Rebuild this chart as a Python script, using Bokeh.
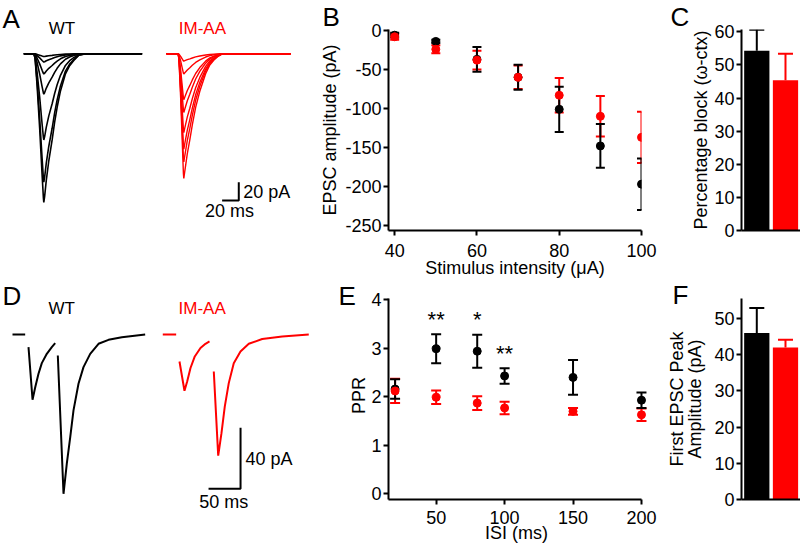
import math
from bokeh.plotting import figure
from bokeh.layouts import row, column
from bokeh.models import Range1d, Label, FixedTicker, ColumnDataSource, PrintfTickFormatter
from bokeh.core.properties import value
from bokeh.embed import file_html
from bokeh.resources import INLINE

FONT = "Liberation Sans"
RED = "#ff0000"
BLK = "#000000"
GROUPS = ["WT", "IM-AA"]
GROUP_COLORS = [BLK, RED]

# ---------------- Panel A: EPSC traces at increasing stimulus (ms, pA) -------------
A_WT_T = [0, 12, 13.5, 16, 19, 22, 23.5, 24, 25, 27, 30, 34, 37, 40, 44, 50, 55, 60, 66, 75, 142]
A_WT_SHAPE = [0, 0, 0.03, 0.22, 0.5, 0.82, 0.97, 1.0, 0.96, 0.85, 0.72, 0.58, 0.46, 0.36,
              0.25, 0.135, 0.08, 0.045, 0.01, 0, 0]
A_WT_PEAKS = [162, 140, 94, 44, 22, 9, 3]
A_IM_T = [0, 14, 15, 17, 19, 20.3, 20.8, 22, 25, 28, 31, 35, 40, 47, 52, 57, 62, 67, 149]
A_IM_SHAPE = [0, 0, 0.05, 0.35, 0.72, 0.96, 1.0, 0.94, 0.8, 0.69, 0.57, 0.43, 0.3, 0.16,
              0.09, 0.05, 0.02, 0, 0]
A_IM_PEAKS = [136, 118, 104, 86, 64, 50, 22, 8]
A_SCALE_MS, A_SCALE_PA = 20, 20

# ---------------- Panel B: input-output ----------------------------------------------
B_X = [40, 50, 60, 70, 80, 90, 100]
B_WT = [-6, -14, -37, -60, -101, -148, -197]
B_WT_SEM = [3, 2, 16, 16, 29, 28, 33]
B_IM = [-8, -24, -38, -60, -83, -110, -137]
B_IM_SEM = [4, 5, 12, 15, 22, 26, 33]
B_XTICKS = [40, 60, 80, 100]
B_YTICKS = [0, -50, -100, -150, -200, -250]

# ---------------- Panel C: percentage block ------------------------------------------
C_MEAN = [54.3, 45.4]
C_SEM = [6.3, 8.0]
C_YTICKS = [0, 10, 20, 30, 40, 50, 60]

# ---------------- Panel D: paired-pulse traces (ms, pA) ------------------------------
D_WT_T = [[0, 19.8],
          [25, 31.3, 35.5, 40.6, 45.8, 53.6, 61.4, 66.7],
          [70.8, 79.7, 84.8, 90.2, 95.3, 103.1, 110.9, 121.4, 134.4, 150, 170.8, 207.3]]
D_WT_I = [[0, 0],
          [-8.3, -42.8, -34.6, -25.8, -18.8, -12.7, -8.3, -5.7],
          [-13.8, -104.5, -84.8, -67.3, -49.8, -32.3, -21.4, -12.7, -6.1, -3.5, -1.8, 0]]
D_IM_T = [[0, 20.9],
          [26.1, 33.9, 38.1, 43.3, 50, 58.9, 66.7, 73],
          [79.7, 86.6, 91.7, 96.9, 103.1, 110.9, 121.4, 134.4, 155.3, 186.6, 228.1]]
D_IM_I = [[0, 0],
          [-17.7, -36.9, -30.8, -22, -14.4, -8.9, -6.1, -4.6],
          [-24.3, -79.5, -64.7, -47.2, -31.9, -18.8, -11.1, -6.1, -3, -1.3, 0]]
D_SCALE_MS, D_SCALE_PA = 50, 40

# ---------------- Panel E: PPR vs ISI ------------------------------------------------
E_X = [20, 50, 80, 100, 150, 200]
E_WT = [2.16, 2.99, 2.94, 2.43, 2.40, 1.93]
E_WT_SEM = [0.20, 0.30, 0.34, 0.16, 0.36, 0.16]
E_IM = [2.12, 1.99, 1.87, 1.77, 1.70, 1.63]
E_IM_SEM = [0.25, 0.14, 0.14, 0.13, 0.07, 0.13]
E_STARS = ["", "**", "*", "**", "", ""]
E_XTICKS = [50, 100, 150, 200]
E_YTICKS = [0, 1, 2, 3, 4]

# ---------------- Panel F: first EPSC amplitude --------------------------------------
F_MEAN = [46.0, 42.0]
F_SEM = [6.9, 2.1]
F_YTICKS = [0, 10, 20, 30, 40, 50]


def make_fig(w, h, xr, yr, l=0, r=0, t=0, b=0, axes=True):
    kw = dict(width=w, height=h, x_range=xr, y_range=yr, output_backend="svg",
              toolbar_location=None, min_border_left=l, min_border_right=r,
              min_border_top=t, min_border_bottom=b)
    if not axes:
        kw.update(x_axis_location=None, y_axis_location=None)
    p = figure(**kw)
    p.outline_line_color = None
    p.grid.visible = False
    p.background_fill_color = "white"
    p.border_fill_color = "white"
    if axes:
        for ax in p.axis:
            ax.axis_line_width = 2
            ax.axis_line_color = "black"
            ax.major_tick_line_width = 2
            ax.major_tick_line_color = "black"
            ax.major_tick_out = 5
            ax.major_tick_in = 0
            ax.minor_tick_line_color = None
            ax.major_label_text_font = FONT
            ax.major_label_text_font_size = "18px"
            ax.major_label_text_color = "black"
            ax.axis_label_text_font = FONT
            ax.axis_label_text_font_size = "18px"
            ax.axis_label_text_font_style = "normal"
            ax.axis_label_text_color = "black"
            ax.major_label_standoff = 2
    else:
        p.frame_align = False
    return p


def put(p, frame_left, frame_bottom, text, sx, sy, size=18, color=BLK, align="left", angle=0):
    p.add_layout(Label(x=sx - frame_left, y=frame_bottom - sy, x_units="screen",
                       y_units="screen", text=text, text_font=FONT,
                       text_font_size=f"{size}px", text_color=color, angle=angle,
                       text_align=align, text_baseline="middle"))


def letter(p, text, offset, standoff):
    t = p.title
    t.text = text
    t.align = "left"
    t.offset = offset
    t.standoff = standoff
    t.text_font = FONT
    t.text_font_size = "26px"
    t.text_font_style = "normal"
    t.text_color = BLK
    t.vertical_align = "bottom"


def errbars(p, x, y, sem, color, cap):
    lo = [a - s for a, s in zip(y, sem)]
    hi = [a + s for a, s in zip(y, sem)]
    p.segment(x0=x, y0=lo, x1=x, y1=hi, line_color=color, line_width=2)
    p.scatter(x=x + x, y=lo + hi, marker="dash", size=cap, line_color=color, line_width=2)


def bars(p, mean, sem):
    idx = list(range(len(GROUPS)))
    src = ColumnDataSource(dict(x=idx, top=mean, hi=[m + s for m, s in zip(mean, sem)],
                                color=GROUP_COLORS))
    p.vbar(x="x", top="top", width=0.88, fill_color="color", line_color=None, source=src)
    p.segment(x0="x", y0="top", x1="x", y1="hi", line_color="color", line_width=2, source=src)
    p.scatter(x="x", y="hi", marker="dash", size=15, line_color="color", line_width=2, source=src)
    p.xaxis.ticker = FixedTicker(ticks=[])
    p.xaxis.major_tick_line_color = None


# ======================= Panel A =======================
pA = make_fig(300, 280, Range1d(-28.0, 332.2), Range1d(-247.2, 58.1), axes=False)
A_IM_OFFSET = 171.3
for pk in A_WT_PEAKS:
    pA.line(A_WT_T, [-pk * s for s in A_WT_SHAPE], line_color=BLK, line_width=1.6)
for pk in A_IM_PEAKS:
    pA.line([t + A_IM_OFFSET for t in A_IM_T], [-pk * s for s in A_IM_SHAPE],
            line_color=RED, line_width=1.4)
a_cx, a_cy = 258.1, -160
pA.line([a_cx - A_SCALE_MS, a_cx, a_cx], [a_cy, a_cy, a_cy + A_SCALE_PA], line_color=BLK, line_width=2)
put(pA, 0, 280, "A", 2, 18, size=26)
put(pA, 0, 280, "WT", 48.3, 28, size=17)
put(pA, 0, 280, "IM-AA", 178.3, 28, size=17, color=RED)
put(pA, 0, 280, "20 pA", 242.7, 191)
put(pA, 0, 280, "20 ms", 229, 210, align="center")

# ======================= Panel B =======================
pB = make_fig(370, 280, Range1d(38.5, 100), Range1d(-256.4, 1.3), l=88, r=29, t=29, b=50)
errbars(pB, B_X, B_IM, B_IM_SEM, RED, 9)
errbars(pB, B_X, B_WT, B_WT_SEM, BLK, 9)
pB.scatter(B_X, B_WT, size=8, fill_color=BLK, line_color=BLK)
pB.scatter(B_X, B_IM, size=8, fill_color=RED, line_color=RED)
pB.xaxis.ticker = FixedTicker(ticks=B_XTICKS)
pB.yaxis.ticker = FixedTicker(ticks=B_YTICKS)
pB.yaxis.formatter = PrintfTickFormatter(format="%d")
pB.xaxis.axis_label = "Stimulus intensity (\u03bcA)"
pB.yaxis.axis_label = "EPSC amplitude (pA)"
pB.xaxis.major_label_standoff = 8
pB.xaxis.axis_label_standoff = -2
pB.yaxis.axis_label_standoff = 2
letter(pB, "B", -66, -5)

# ======================= Panel C =======================
pC = make_fig(130, 280, Range1d(-0.533, 1.523), Range1d(0, 60.7), l=71, r=0, t=29, b=50)
bars(pC, C_MEAN, C_SEM)
pC.yaxis.ticker = FixedTicker(ticks=C_YTICKS)
pC.yaxis.axis_label = "Percentage block (\u03c9-ctx)"
pC.yaxis.axis_label_standoff = 0
letter(pC, "C", -71, -5)

# ======================= Panel D =======================
pD = make_fig(310, 267, Range1d(-18.75, 465.6), Range1d(-139.7, 35.4), axes=False)
D_IM_OFFSET = 234.8
for ts, cs in zip(D_WT_T, D_WT_I):
    pD.line(ts, cs, line_color=BLK, line_width=2)
for ts, cs in zip(D_IM_T, D_IM_I):
    pD.line([t + D_IM_OFFSET for t in ts], cs, line_color=RED, line_width=2)
d_cx, d_cy = 356.3, -101.2
pD.line([d_cx - D_SCALE_MS, d_cx, d_cx], [d_cy, d_cy, d_cy + D_SCALE_PA], line_color=BLK, line_width=2)
put(pD, 0, 547, "D", 2, 295, size=26)
put(pD, 0, 547, "WT", 48, 308, size=17)
put(pD, 0, 547, "IM-AA", 178, 308, size=17, color=RED)
put(pD, 0, 547, "40 pA", 245, 458)
put(pD, 0, 547, "50 ms", 223.3, 501, align="center")

# ======================= Panel E =======================
# The frame fills the figure so the panel letter and titles can sit inside it;
# both axes are pinned at the data edges and their lines are bounded.
E_XMIN, E_XMAX, E_YMIN, E_YMAX = 15.2, 200, -0.117, 4.027
pE = make_fig(350, 267, Range1d(-41.8, 213.9), Range1d(-1.107, 4.398), l=0, r=0, t=0, b=0)
pE.frame_align = False
pE.yaxis.fixed_location = E_XMIN
pE.yaxis.bounds = (E_YMIN, E_YMAX)
pE.xaxis.fixed_location = E_YMIN
pE.xaxis.bounds = (E_XMIN, E_XMAX)
errbars(pE, E_X, E_IM, E_IM_SEM, RED, 10)
errbars(pE, E_X, E_WT, E_WT_SEM, BLK, 10)
pE.scatter(E_X, E_WT, size=8, fill_color=BLK, line_color=BLK)
pE.scatter(E_X, E_IM, size=8, fill_color=RED, line_color=RED)
star_src = ColumnDataSource(dict(x=E_X, y=[m + s for m, s in zip(E_WT, E_WT_SEM)], t=E_STARS))
pE.text(x="x", y="y", text="t", source=star_src, text_font=value(FONT),
        text_font_size="22px", text_align="center", text_baseline="alphabetic",
        y_offset=-15, text_color=BLK)
pE.xaxis.ticker = FixedTicker(ticks=E_XTICKS)
pE.yaxis.ticker = FixedTicker(ticks=E_YTICKS)
pE.xaxis.major_label_standoff = 7
put(pE, 310, 547, "ISI (ms)", 516, 532.5, align="center")
put(pE, 310, 547, "PPR", 358.5, 395, align="center", angle=math.pi / 2)
put(pE, 310, 547, "E", 338, 295, size=26)

# ======================= Panel F =======================
F_XMIN, F_XMAX, F_YMAX = -0.533, 1.523, 55.5
pF = make_fig(140, 267, Range1d(-3.355, F_XMAX), Range1d(-4.70, 59.94), l=0, r=0, t=2, b=31)
pF.frame_align = False
bars(pF, F_MEAN, F_SEM)
pF.yaxis.fixed_location = F_XMIN
pF.yaxis.bounds = (0, F_YMAX)
pF.xaxis.fixed_location = 0
pF.xaxis.bounds = (F_XMIN, F_XMAX)
pF.yaxis.ticker = FixedTicker(ticks=F_YTICKS)
pF.yaxis.axis_label = "First EPSC Peak\nAmplitude (pA)"
pF.yaxis.axis_label_text_line_height = 0.92
pF.yaxis.axis_label_standoff = 6
put(pF, 660, 516, "F", 672, 294, size=26)

layout = column(row(pA, pB, pC, spacing=0), row(pD, pE, pF, spacing=0), spacing=0)
open("out.html", "w").write(file_html(layout, INLINE))
